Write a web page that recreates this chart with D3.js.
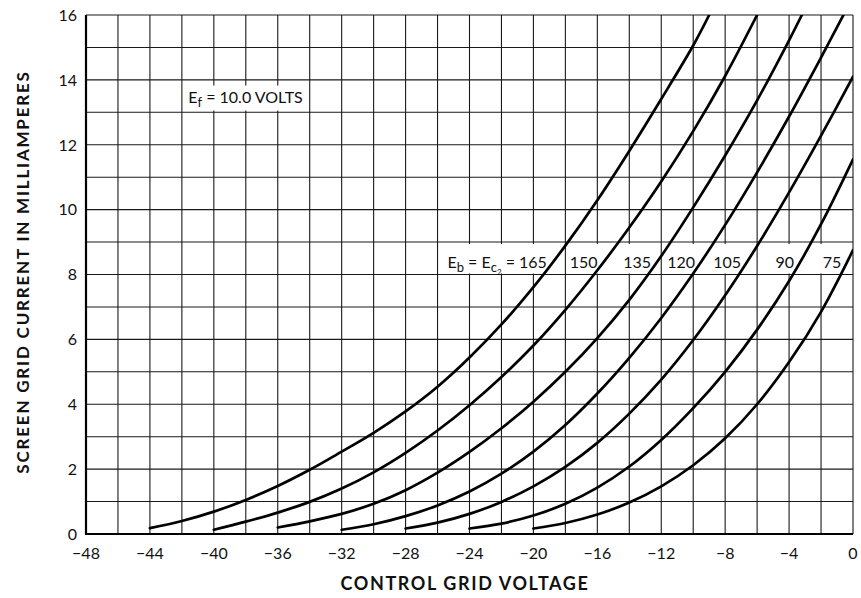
<!DOCTYPE html>
<html lang="en">
<head>
<meta charset="utf-8">
<title>Screen grid current</title>
<script src="https://cdn.jsdelivr.net/npm/d3@7"></script>
<style>
  body { margin: 0; background: #fff; }
  text { font-family: Lato, "Open Sans", sans-serif; fill: #111; }
</style>
</head>
<body>
<svg width="861" height="598"></svg>
<script>
// plate = screen voltage (Eb = Ec2) for each curve
const curveNames = ['165', '150', '135', '120', '105', '90', '75'];

// [control grid volts, screen mA]
const eb165 = [[-44,0.18],[-42,0.4],[-40,0.69],[-38,1.05],[-36,1.48],[-34,1.98],[-32,2.54],[-30,3.12],[-28,3.78],[-26,4.54],[-24,5.44],[-22,6.46],[-20,7.61],[-18,8.89],[-16,10.29],[-14,11.81],[-12,13.41],[-10,15.06],[-9,16]];
const eb150 = [[-40,0.13],[-38,0.38],[-36,0.66],[-34,0.99],[-32,1.4],[-30,1.9],[-28,2.5],[-26,3.19],[-24,3.97],[-22,4.84],[-20,5.81],[-18,6.91],[-16,8.13],[-14,9.45],[-12,10.87],[-10,12.42],[-8,14.12],[-6,16]];
const eb135 = [[-36,0.2],[-34,0.39],[-32,0.62],[-30,0.93],[-28,1.35],[-26,1.89],[-24,2.53],[-22,3.26],[-20,4.08],[-18,5.0],[-16,6.04],[-14,7.22],[-12,8.57],[-10,10.07],[-8,11.67],[-6,13.37],[-4,15.22],[-3.2,16]];
const eb120 = [[-32,0.13],[-30,0.3],[-28,0.55],[-26,0.88],[-24,1.31],[-22,1.86],[-20,2.54],[-18,3.36],[-16,4.33],[-14,5.43],[-12,6.66],[-10,8.03],[-8,9.53],[-6,11.15],[-4,12.87],[-2,14.69],[-0.6,16]];
const eb105 = [[-28,0.17],[-26,0.35],[-24,0.62],[-22,0.99],[-20,1.47],[-18,2.07],[-16,2.81],[-14,3.71],[-12,4.76],[-10,5.98],[-8,7.36],[-6,8.88],[-4,10.53],[-2,12.28],[0,14.1]];
const eb90 = [[-24,0.17],[-22,0.32],[-20,0.57],[-18,0.93],[-16,1.43],[-14,2.08],[-12,2.9],[-10,3.88],[-8,5.0],[-6,6.3],[-4,7.8],[-2,9.55],[0,11.55]];
const eb75 = [[-20,0.17],[-18,0.34],[-16,0.6],[-14,0.97],[-12,1.47],[-10,2.12],[-8,2.95],[-6,4.0],[-4,5.3],[-2,6.85],[0,8.75]];

const allCurves = [eb165, eb150, eb135, eb120, eb105, eb90, eb75];

const xTicks = [-48,-44,-40,-36,-32,-28,-24,-20,-16,-12,-8,-4,0];
const yTicks = [0,2,4,6,8,10,12,14,16];

const svg = d3.select('svg');
const x = d3.scaleLinear().domain([-48, 0]).range([86, 853]);
const y = d3.scaleLinear().domain([0, 16]).range([534, 15]);

svg.append('defs').append('clipPath').attr('id', 'plot')
    .append('rect')
    .attr('x', x(-48)).attr('y', y(16))
    .attr('width', x(0) - x(-48)).attr('height', y(0) - y(16));

// grid: every 2 volts, every 1 mA
const grid = svg.append('g').attr('stroke', '#1a1a1a').attr('stroke-width', 1.1);
grid.selectAll('line.v')
    .data(d3.range(-48, 1, 2))
    .enter().append('line')
    .attr('class', 'v')
    .attr('x1', d => x(d)).attr('x2', d => x(d))
    .attr('y1', y(0)).attr('y2', y(16));
grid.selectAll('line.h')
    .data(d3.range(0, 17, 1))
    .enter().append('line')
    .attr('class', 'h')
    .attr('x1', x(-48)).attr('x2', x(0))
    .attr('y1', d => y(d)).attr('y2', d => y(d));

// heavier left and bottom edges
svg.append('path')
    .attr('d', `M${x(-48)},${y(16)}V${y(0)}H${x(0)}`)
    .attr('fill', 'none').attr('stroke', '#000').attr('stroke-width', 2.2);

// label "Ef = 10.0 VOLTS"
const ef = svg.append('g');
const efText = ef.append('text')
    .attr('x', x(-41.6)).attr('y', y(13.3))
    .style('font-size', '16px');
efText.append('tspan').text('E');
efText.append('tspan').text('f').attr('dy', 4).style('font-size', '13px');
efText.append('tspan').text(' = 10.0 VOLTS').attr('dy', -4);
const eb = efText.node().getBBox();
ef.insert('rect', 'text')
    .attr('x', eb.x - 3).attr('y', eb.y - 1)
    .attr('width', eb.width + 6).attr('height', eb.height + 2)
    .attr('fill', '#fff');

// curve labels sit where each curve crosses this current
const labelLevel = 8.35;
function crossing(pts, level) {
    for (let i = 1; i < pts.length; i++) {
        if (pts[i][1] >= level) {
            const [v0, i0] = pts[i - 1], [v1, i1] = pts[i];
            return v0 + (v1 - v0) * (level - i0) / (i1 - i0);
        }
    }
    return pts[pts.length - 1][0];
}

const labels = svg.append('g');
allCurves.forEach((pts, k) => {
    const g = labels.append('g');
    const t = g.append('text')
        .attr('x', x(crossing(pts, labelLevel)) - 5)
        .attr('y', y(labelLevel) + 5)
        .attr('text-anchor', 'end')
        .style('font-size', '16px');
    if (k === 0) {
        t.append('tspan').text('E');
        t.append('tspan').text('b').attr('dy', 4).style('font-size', '13px');
        t.append('tspan').text(' = E').attr('dy', -4);
        t.append('tspan').text('c').attr('dy', 4).style('font-size', '13px');
        t.append('tspan').text('2').attr('dy', 3).style('font-size', '8px');
        t.append('tspan').text(' = ' + curveNames[k]).attr('dy', -7);
    } else {
        t.text(curveNames[k]);
    }
    const b = t.node().getBBox();
    g.insert('rect', 'text')
        .attr('x', b.x - 3).attr('y', y(9) + 2)
        .attr('width', b.width + 5).attr('height', y(8) - y(9) - 3)
        .attr('fill', '#fff');
});

// the curves
const line = d3.line()
    .x(d => x(d[0]))
    .y(d => y(d[1]))
    .curve(d3.curveCatmullRom.alpha(0.5));

svg.append('g').attr('clip-path', 'url(#plot)')
    .selectAll('path.curve')
    .data(allCurves)
    .enter().append('path')
    .attr('class', 'curve')
    .attr('d', line)
    .attr('fill', 'none')
    .attr('stroke', '#000')
    .attr('stroke-width', 2.7)
    .attr('stroke-linecap', 'round');

// tick labels
svg.append('g').selectAll('text')
    .data(xTicks)
    .enter().append('text')
    .attr('x', d => x(d))
    .attr('y', 559)
    .attr('text-anchor', 'middle')
    .style('font-size', '16px')
    .text(d => d === 0 ? '0' : '\u2212' + Math.abs(d));

svg.append('g').selectAll('text')
    .data(yTicks)
    .enter().append('text')
    .attr('x', 77)
    .attr('y', d => y(d))
    .attr('dy', '0.36em')
    .attr('text-anchor', 'end')
    .style('font-size', '16px')
    .text(d => d);

// axis titles
svg.append('text')
    .attr('x', 465).attr('y', 590)
    .attr('text-anchor', 'middle')
    .style('font-size', '18px').style('font-weight', 'bold')
    .style('letter-spacing', '1.6px')
    .text('CONTROL GRID VOLTAGE');

svg.append('text')
    .attr('transform', 'translate(29,272) rotate(-90)')
    .attr('text-anchor', 'middle')
    .style('font-size', '17px').style('font-weight', 'bold')
    .style('letter-spacing', '1.8px')
    .text('SCREEN GRID CURRENT IN MILLIAMPERES');
</script>
</body>
</html>
